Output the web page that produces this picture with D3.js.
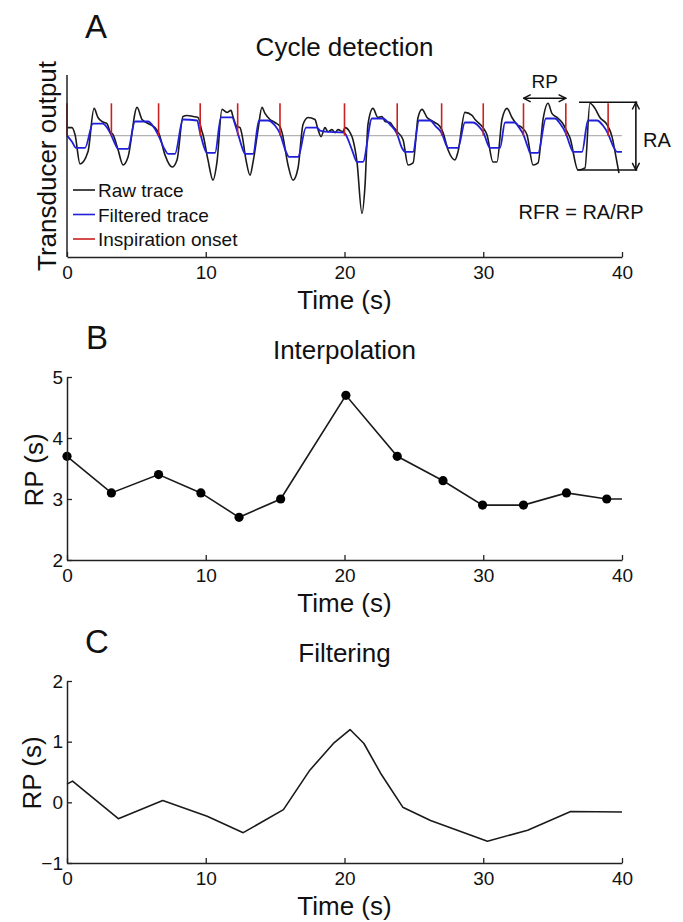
<!DOCTYPE html>
<html><head><meta charset="utf-8">
<script src="https://cdn.jsdelivr.net/npm/d3@7"></script>
<style>
html,body{margin:0;padding:0;background:#fff;}
svg{display:block;font-family:"Liberation Sans",Arial,Helvetica,sans-serif;}
</style></head>
<body>
<svg id="chart" width="683" height="922"></svg>
<script>
// ---------- DATA ----------
const xTicks = [0, 10, 20, 30, 40];
// Panel A: raw trace (time s, arbitrary units)
const rawT = [0,0.36,0.58,0.94,1.51,1.95,2.23,2.52,2.88,3.1,3.32,3.68,4.04,4.4,5.05,5.41,5.84,6.34,6.63,7.06,7.57,7.93,8.36,8.65,9.08,9.44,9.73,9.8,10.16,10.52,10.81,11.17,11.53,11.82,11.96,12.25,12.47,12.61,12.9,13.19,13.41,13.77,14.05,14.27,14.63,14.99,15.35,15.5,15.93,16.29,16.65,17.01,17.37,17.87,18.09,18.31,18.59,18.81,19.1,19.32,19.53,19.89,20.04,20.4,20.61,20.9,21.26,21.48,21.69,22.05,22.41,22.7,22.92,23.28,23.5,23.86,24.22,24.58,24.94,25.3,25.59,25.95,26.38,26.88,27.1,27.46,27.96,28.18,28.68,29.19,29.41,29.98,30.27,30.7,30.99,31.35,31.71,32.07,32.43,32.79,33.15,33.59,33.95,34.31,34.67,34.95,35.32,35.68,36.04,36.25,36.83,37.33,37.69,38.05,38.41,38.92,39.28,39.5,39.78];
const rawV = [0.8,0.8,0.1,-2.8,-1.6,2.7,1.8,1.4,1.2,0.4,0.1,-1.4,-2.9,-2.1,2.8,1.6,1.2,0.8,0.2,-1.9,-3.1,-2.4,1.9,2.0,1.9,1.8,0.4,0.1,-2.4,-4.4,-2.6,2.6,2.3,2.5,1.9,0.9,0.8,0.1,-2.4,-3.9,-2.6,0.6,2.8,2.2,1.6,1.3,0.9,0.3,-2.9,-4.4,-3.2,1.1,1.8,1.6,0.6,-0.1,0.8,0.4,0.6,0.3,0.6,0.4,0.8,0.3,-0.4,-2.6,-7.7,-4.9,1.1,2.7,1.8,1.9,1.4,1.3,0.9,0.3,-0.4,-2.9,-2.7,1.8,2.6,1.8,1.4,0.9,0.3,-1.4,-2.4,-1.6,2.3,2.0,1.6,0.8,0.1,-2.6,-2.6,1.6,2.7,1.8,1.1,0.8,0.1,-2.9,-2.7,1.6,3.2,2.2,1.8,1.3,0.4,-0.2,-3.4,-3.2,3.2,2.7,1.8,1.1,-0.1,-1.6,-3.7];
// Panel A: filtered trace
const filtT = [0,0.36,0.65,1.3,1.87,2.59,2.88,3.17,3.53,3.68,4.4,4.9,5.84,6.27,6.56,7.06,7.28,7.78,8.36,9.37,9.59,9.95,10.09,10.67,11.1,11.89,12.18,12.32,12.68,12.83,13.41,13.84,14.49,14.99,15.35,15.78,16.0,16.65,17.23,18.02,18.23,18.59,19.96,20.04,20.54,20.9,21.33,21.98,22.77,23.28,23.78,24.14,24.36,24.94,25.37,26.16,26.59,27.03,27.32,27.46,28.18,28.68,29.26,29.69,30.05,30.34,30.49,31.21,31.57,32.29,32.58,32.86,33.23,33.37,33.95,34.52,35.17,35.53,35.96,36.32,36.47,37.12,37.55,38.2,38.63,38.99,39.35,39.64,40];
const filtV = [0,-0.6,-1.2,-1.2,1.2,1.2,0.8,0.1,-1.0,-1.3,-1.3,1.4,1.4,0.8,0.1,-1.4,-1.8,-1.8,1.6,1.5,0.3,-1.4,-1.7,-1.7,1.8,1.8,0.8,0.2,-1.4,-1.8,-1.8,1.5,1.5,1.0,0.2,-1.6,-2.1,-2.1,0.8,0.8,0.5,0.4,0.3,0.2,-1.4,-2.6,-2.6,1.7,1.7,1.1,0.2,-1.2,-1.6,-1.6,1.5,1.5,0.9,0.2,-0.9,-1.2,-1.2,1.3,1.3,0.9,0.2,-0.9,-1.2,-1.2,1.3,1.3,0.8,0.2,-1.2,-1.7,-1.7,1.7,1.7,1.2,0.2,-1.2,-1.6,-1.6,1.5,1.5,1.0,0.2,-1.0,-1.6,-1.6];
// Panel A: inspiration onsets (s)
const onsetTimes = [0, 3.2, 6.6, 9.6, 12.3, 15.35, 20.0, 23.8, 27.0, 30.0, 32.9, 35.95, 39.0];
const onsetHeight = 3.2;
// Panel A annotations (data units)
const rpArrow = {t0: 32.9, t1: 35.95, v: 3.7};
const raBox = {t0: 36.9, t1: 41.1, tArrow: 41.0, vTop: 3.3, vBottom: -3.4};
// Panel B: interpolated RP
const rpTimes = [0, 3.2, 6.6, 9.65, 12.4, 15.4, 20.1, 23.8, 27.1, 29.95, 32.9, 36.0, 38.9];
const rpValues = [3.7, 3.1, 3.4, 3.1, 2.7, 3.0, 4.7, 3.7, 3.3, 2.9, 2.9, 3.1, 3.0];
const rpTailT = 40, rpTailV = 3.0;
const bTicks = [2, 3, 4, 5];
// Panel C: filtered RP
const cTimes = [0, 0.4, 3.7, 6.9, 10.1, 12.7, 15.6, 17.5, 19.2, 20.4, 21.4, 22.6, 24.2, 26.2, 30.3, 33.2, 36.3, 40];
const cValues = [0.3, 0.35, -0.27, 0.03, -0.23, -0.5, -0.12, 0.53, 0.97, 1.2, 0.97, 0.48, -0.08, -0.3, -0.64, -0.46, -0.15, -0.16];
const cTicks = [-1, 0, 1, 2];

// ---------- DRAW ----------
const svg = d3.select("#chart");
const FONT_TICK = 19, FONT_LAB = 26, FONT_LET = 33;
const x = d3.scaleLinear().domain([0, 40]).range([67, 622]);
const yA = d3.scaleLinear().domain([-12, 6]).range([257, 75]);
const yB = d3.scaleLinear().domain([2, 5]).range([560, 377]);
const yC = d3.scaleLinear().domain([-1, 2]).range([863, 681]);

const defs = svg.append("defs");
defs.append("marker").attr("id","arr").attr("viewBox","0 0 10 10")
  .attr("refX",9).attr("refY",5).attr("markerWidth",9).attr("markerHeight",9)
  .attr("markerUnits","userSpaceOnUse").attr("orient","auto-start-reverse")
  .append("path").attr("d","M1,1 L9,5 L1,9").attr("fill","none").attr("stroke","#111").attr("stroke-width",1.6);

function styleAxis(g){
  g.selectAll("path.domain").attr("stroke","#222").attr("stroke-width",1.5);
  g.selectAll(".tick line").attr("stroke","#222").attr("stroke-width",1.3);
  g.selectAll("text").attr("font-size",FONT_TICK).attr("fill","#111")
    .attr("font-family","Liberation Sans, Arial, sans-serif");
}
function xAxis(y0){
  const g = svg.append("g").attr("transform",`translate(0,${y0})`)
    .call(d3.axisBottom(x).tickValues(xTicks).tickSize(-5).tickSizeOuter(0).tickPadding(9).tickFormat(d3.format("d")));
  styleAxis(g);
}
function yAxis(scale, ticks){
  const g = svg.append("g").attr("transform",`translate(67,0)`)
    .call(d3.axisLeft(scale).tickValues(ticks).tickSize(-5).tickSizeOuter(0).tickPadding(4).tickFormat(d3.format("d")));
  styleAxis(g);
}
function text(str, tx, ty, size, anchor){
  return svg.append("text").attr("x",tx).attr("y",ty).attr("font-size",size)
    .attr("text-anchor",anchor||"start").attr("fill","#111").text(str);
}
function yLabel(str, bx, cy){
  svg.append("text").attr("transform",`translate(${bx},${cy}) rotate(-90)`)
    .attr("text-anchor","middle").attr("font-size",FONT_LAB).attr("fill","#111").text(str);
}

// ===== Panel A =====
text("A", 85, 38, FONT_LET);
text("Cycle detection", 344.5, 56, FONT_LAB, "middle");
svg.append("line").attr("x1",x(0)).attr("x2",x(40)).attr("y1",yA(0)).attr("y2",yA(0))
  .attr("stroke","#b4b4b4").attr("stroke-width",1.2);
const lineA = d3.line().curve(d3.curveMonotoneX);
svg.append("path").attr("d", lineA(rawT.map((t,i)=>[x(t), yA(rawV[i])])))
  .attr("fill","none").attr("stroke","#1a1a1a").attr("stroke-width",1.6);
svg.append("path").attr("d", lineA(filtT.map((t,i)=>[x(t), yA(filtV[i])])))
  .attr("fill","none").attr("stroke","#2020d8").attr("stroke-width",1.8);
svg.selectAll("line.onset").data(onsetTimes).enter().append("line").attr("class","onset")
  .attr("x1",d=>x(d)).attr("x2",d=>x(d)).attr("y1",yA(0)).attr("y2",yA(onsetHeight))
  .attr("stroke","#cc2020").attr("stroke-width",1.6);
xAxis(257);
svg.append("line").attr("x1",67).attr("x2",67).attr("y1",yA(6)).attr("y2",yA(-12))
  .attr("stroke","#222").attr("stroke-width",1.5);
yLabel("Transducer output", 56, 166);
text("Time (s)", 344.5, 309, FONT_LAB, "middle");
svg.append("line").attr("x1",x(rpArrow.t0)).attr("x2",x(rpArrow.t1)).attr("y1",yA(rpArrow.v)).attr("y2",yA(rpArrow.v))
  .attr("stroke","#111").attr("stroke-width",1.6).attr("marker-start","url(#arr)").attr("marker-end","url(#arr)");
text("RP", x((rpArrow.t0+rpArrow.t1)/2), 88, FONT_TICK, "middle");
svg.append("line").attr("x1",x(raBox.t0)).attr("x2",x(raBox.t1)).attr("y1",yA(raBox.vTop)).attr("y2",yA(raBox.vTop))
  .attr("stroke","#111").attr("stroke-width",1.6);
svg.append("line").attr("x1",x(raBox.t0 - 0.1)).attr("x2",x(raBox.t1)).attr("y1",yA(raBox.vBottom)).attr("y2",yA(raBox.vBottom))
  .attr("stroke","#111").attr("stroke-width",1.6);
svg.append("line").attr("x1",x(raBox.tArrow)).attr("x2",x(raBox.tArrow)).attr("y1",yA(raBox.vTop)).attr("y2",yA(raBox.vBottom))
  .attr("stroke","#111").attr("stroke-width",1.6).attr("marker-start","url(#arr)").attr("marker-end","url(#arr)");
text("RA", 643, 147, FONT_TICK+1);
text("RFR = RA/RP", 581, 219, 20, "middle");
const legend = [["Raw trace","#1a1a1a"],["Filtered trace","#2020d8"],["Inspiration onset","#cc2020"]];
legend.forEach((d,i)=>{
  const ly = 190 + i*24.5;
  svg.append("line").attr("x1",73).attr("x2",95).attr("y1",ly).attr("y2",ly)
    .attr("stroke",d[1]).attr("stroke-width",1.6);
  text(d[0], 98, ly+7, FONT_TICK);
});

// ===== Panel B =====
text("B", 86, 349, FONT_LET);
text("Interpolation", 344.5, 359, FONT_LAB, "middle");
const lineB = d3.line().x(d=>x(d[0])).y(d=>yB(d[1]));
const bPts = rpTimes.map((t,i)=>[t, rpValues[i]]);
svg.append("path").attr("d", lineB(bPts.concat([[rpTailT, rpTailV]])))
  .attr("fill","none").attr("stroke","#1a1a1a").attr("stroke-width",1.6);
svg.selectAll("circle.b").data(bPts).enter().append("circle").attr("class","b")
  .attr("cx",d=>x(d[0])).attr("cy",d=>yB(d[1])).attr("r",4.6).attr("fill","#000");
xAxis(560);
yAxis(yB, bTicks);
yLabel("RP (s)", 43, 470);
text("Time (s)", 344.5, 612, FONT_LAB, "middle");

// ===== Panel C =====
text("C", 85, 653, FONT_LET);
text("Filtering", 344.5, 662, FONT_LAB, "middle");
svg.append("path").attr("d", d3.line()(cTimes.map((t,i)=>[x(t), yC(cValues[i])])))
  .attr("fill","none").attr("stroke","#1a1a1a").attr("stroke-width",1.6).attr("stroke-linejoin","round");
xAxis(863);
yAxis(yC, cTicks);
yLabel("RP (s)", 41, 773);
text("Time (s)", 344.5, 915, FONT_LAB, "middle");
</script>
</body></html>
